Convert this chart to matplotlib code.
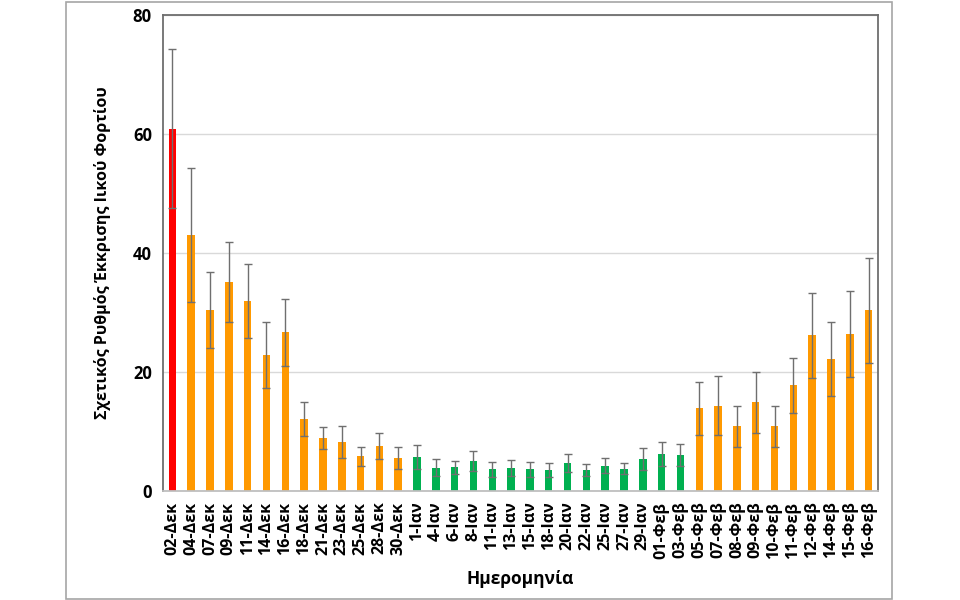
import matplotlib.pyplot as plt
import matplotlib.patches as mpatches
import numpy as np

plt.rcParams['font.family'] = ['Open Sans', 'DejaVu Sans']

dates = ["02-Δεκ", "04-Δεκ", "07-Δεκ", "09-Δεκ", "11-Δεκ", "14-Δεκ", "16-Δεκ",
         "18-Δεκ", "21-Δεκ", "23-Δεκ", "25-Δεκ", "28-Δεκ", "30-Δεκ",
         "1-Ιαν", "4-Ιαν", "6-Ιαν", "8-Ιαν", "11-Ιαν", "13-Ιαν", "15-Ιαν",
         "18-Ιαν", "20-Ιαν", "22-Ιαν", "25-Ιαν", "27-Ιαν", "29-Ιαν",
         "01-Φεβ", "03-Φεβ", "05-Φεβ", "07-Φεβ", "08-Φεβ", "09-Φεβ", "10-Φεβ",
         "11-Φεβ", "12-Φεβ", "14-Φεβ", "15-Φεβ", "16-Φεβ"]

values = [60.9, 43.0, 30.4, 35.1, 31.9, 22.8, 26.6,
          12.1, 8.9, 8.2, 5.75, 7.55, 5.5,
          5.7, 3.85, 3.9, 5.0, 3.55, 3.8, 3.55,
          3.45, 4.6, 3.4, 4.2, 3.7, 5.3,
          6.15, 6.0, 13.8, 14.3, 10.8, 14.85, 10.8,
          17.7, 26.1, 22.1, 26.3, 30.3]

errors = [13.3, 11.3, 6.4, 6.7, 6.2, 5.6, 5.7,
          2.85, 1.85, 2.7, 1.6, 2.2, 1.8,
          2.0, 1.4, 1.1, 1.65, 1.3, 1.3, 1.25,
          1.1, 1.55, 1.0, 1.2, 1.0, 1.8,
          2.0, 1.8, 4.5, 4.9, 3.4, 5.1, 3.5,
          4.6, 7.2, 6.25, 7.2, 8.9]

# colour group per bar: r = red, o = orange, g = green
groups = ["r"] + ["o"] * 12 + ["g"] * 15 + ["o"] * 10
palette = {"r": "#FF0000", "o": "#FF9900", "g": "#00B050"}
colors = [palette[g] for g in groups]

fig = plt.figure(figsize=(9.6, 6), dpi=100)
ax = fig.add_axes([0.1698, 0.1825, 0.7448, 0.7925])

x = np.arange(len(dates))
ax.bar(x, values, width=0.4, color=colors, zorder=2,
       yerr=errors, error_kw=dict(ecolor="#6f6f6f", elinewidth=1.0,
                                  capsize=3, capthick=1.0, zorder=3))

ax.set_xlim(-0.5, len(dates) - 0.5)
ax.set_ylim(0, 80)
ax.set_yticks([0, 20, 40, 60, 80])
ax.yaxis.grid(True, color="#d9d9d9", linewidth=1, zorder=0)
ax.set_axisbelow(True)

ax.set_xticks(x)
ax.set_xticklabels(dates, rotation=90, fontsize=11.5, fontweight="bold")
for lbl in ax.get_yticklabels():
    lbl.set_fontsize(12)
    lbl.set_fontweight("bold")
ax.tick_params(length=0, pad=8)

for side in ["left", "top", "right"]:
    ax.spines[side].set_color("#6e6e6e")
    ax.spines[side].set_linewidth(1.3)
ax.spines["bottom"].set_color("#bfbfbf")
ax.spines["bottom"].set_linewidth(1.3)

ax.set_ylabel("Σχετικός Ρυθμός Έκκρισης Ιικού Φορτίου", fontsize=11.5,
              fontweight="bold", labelpad=16)
ax.set_xlabel("Ημερομηνία", fontsize=12.5, fontweight="bold", labelpad=8)

# outer frame around the chart
frame = mpatches.Rectangle((66 / 960, 0.002), (892 - 66) / 960, 0.995,
                           transform=fig.transFigure, fill=False,
                           edgecolor="#a6a6a6", linewidth=1.2)
fig.patches.append(frame)

fig.savefig("out.png", dpi=100)
